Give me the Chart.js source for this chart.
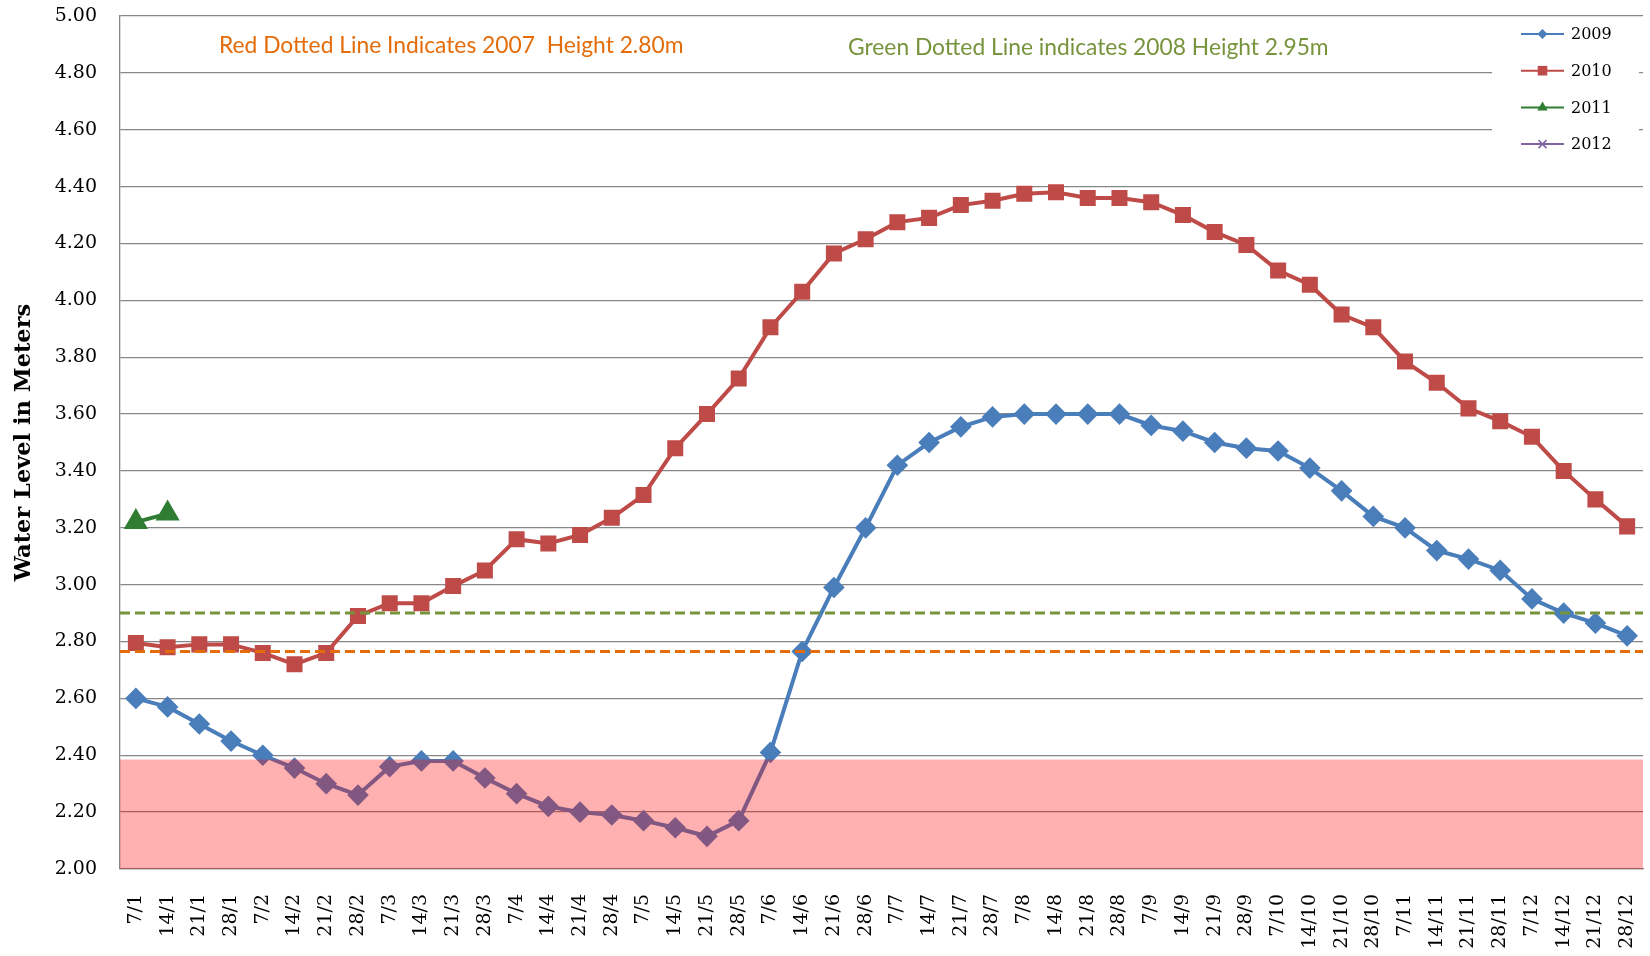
<!DOCTYPE html>
<html>
<head>
<meta charset="utf-8">
<script src="https://cdn.jsdelivr.net/npm/chart.js@4.4.1/dist/chart.umd.min.js"></script>
<style>
  body { margin: 0; background: #fff; }
  canvas { display: block; }
</style>
</head>
<body>
<canvas id="waterChart" width="1650" height="956"></canvas>
<script>
// weekly readings, day/month
const weeks = ['7/1','14/1','21/1','28/1','7/2','14/2','21/2','28/2','7/3','14/3','21/3','28/3',
  '7/4','14/4','21/4','28/4','7/5','14/5','21/5','28/5','7/6','14/6','21/6','28/6',
  '7/7','14/7','21/7','28/7','7/8','14/8','21/8','28/8','7/9','14/9','21/9','28/9',
  '7/10','14/10','21/10','28/10','7/11','14/11','21/11','28/11','7/12','14/12','21/12','28/12'];

const level2009 = [2.60, 2.57, 2.51, 2.45, 2.40, 2.355, 2.30, 2.26, 2.36, 2.38, 2.38, 2.32,
  2.265, 2.22, 2.20, 2.19, 2.17, 2.145, 2.115, 2.17, 2.41, 2.765, 2.99, 3.20,
  3.42, 3.50, 3.555, 3.59, 3.60, 3.60, 3.60, 3.60, 3.56, 3.54, 3.50, 3.48,
  3.47, 3.41, 3.33, 3.24, 3.20, 3.12, 3.09, 3.05, 2.95, 2.90, 2.865, 2.82];

const level2010 = [2.795, 2.78, 2.79, 2.79, 2.76, 2.72, 2.76, 2.89, 2.935, 2.935, 2.995, 3.05,
  3.16, 3.145, 3.175, 3.235, 3.315, 3.48, 3.60, 3.725, 3.905, 4.03, 4.165, 4.215,
  4.275, 4.29, 4.335, 4.35, 4.375, 4.38, 4.36, 4.36, 4.345, 4.30, 4.24, 4.195,
  4.105, 4.055, 3.95, 3.905, 3.785, 3.71, 3.62, 3.575, 3.52, 3.40, 3.30, 3.205];

const level2011 = [3.22, 3.25];
const level2012 = [];

// reference levels as drawn on the sheet
const line2007 = 2.765;
const line2008 = 2.90;
const lowBandTop = 2.385;

const note2007 = 'Red Dotted Line Indicates 2007  Height 2.80m';
const note2008 = 'Green Dotted Line indicates 2008 Height 2.95m';

Chart.defaults.font.family = 'DejaVu Serif';
Chart.defaults.color = '#000';

function drawMarker(ctx, style, x, y, r) {
    ctx.beginPath();
    if (style === 'rectRot') {
        ctx.moveTo(x - r, y); ctx.lineTo(x, y - r); ctx.lineTo(x + r, y); ctx.lineTo(x, y + r);
        ctx.closePath(); ctx.fill();
    } else if (style === 'rect') {
        const s = r * Math.SQRT1_2;
        ctx.rect(x - s, y - s, 2 * s, 2 * s); ctx.fill();
    } else if (style === 'triangle') {
        ctx.moveTo(x, y - r); ctx.lineTo(x + r * 0.866, y + r * 0.5); ctx.lineTo(x - r * 0.866, y + r * 0.5);
        ctx.closePath(); ctx.fill();
    } else if (style === 'crossRot') {
        ctx.moveTo(x - r, y - r); ctx.lineTo(x + r, y + r);
        ctx.moveTo(x + r, y - r); ctx.lineTo(x - r, y + r);
        ctx.stroke();
    }
}

const overlays = {
    id: 'overlays',
    afterDatasetsDraw(chart) {
        const { ctx, chartArea: area, scales: { y } } = chart;
        ctx.save();
        // pink low water band sits over the lines
        const bandTop = y.getPixelForValue(lowBandTop);
        ctx.fillStyle = 'rgba(255, 0, 0, 0.31)';
        ctx.fillRect(area.left, bandTop, area.right - area.left, y.getPixelForValue(y.min) - bandTop);

        // dotted reference lines
        ctx.lineWidth = 3;
        ctx.setLineDash([10, 5]);
        [[line2008, '#77933C'], [line2007, '#E46C0A']].forEach(([v, c]) => {
            const py = y.getPixelForValue(v);
            ctx.strokeStyle = c;
            ctx.beginPath();
            ctx.moveTo(area.left, py);
            ctx.lineTo(area.right, py);
            ctx.stroke();
        });
        ctx.setLineDash([]);

        // notes
        ctx.font = '22.8px Lato';
        ctx.textBaseline = 'middle';
        ctx.fillStyle = '#E46C0A';
        ctx.fillText(note2007, area.left + 99, 46);
        ctx.fillStyle = '#77933C';
        ctx.fillText(note2008, area.left + 728, 48);
        ctx.restore();
    },
    afterDraw(chart) {
        const { ctx } = chart;
        ctx.save();
        ctx.fillStyle = '#fff';
        ctx.fillRect(1492, 18, 147, 144);
        ctx.font = '16px "DejaVu Serif"';
        ctx.textBaseline = 'middle';
        chart.data.datasets.forEach((ds, i) => {
            const cy = 34 + i * 36.7;
            ctx.strokeStyle = ds.borderColor;
            ctx.fillStyle = ds.backgroundColor;
            ctx.lineWidth = 2;
            ctx.beginPath();
            ctx.moveTo(1521, cy);
            ctx.lineTo(1564, cy);
            ctx.stroke();
            ctx.lineWidth = 1.5;
            drawMarker(ctx, ds.pointStyle, 1542.5, cy, ds.legendRadius);
            ctx.fillStyle = '#000';
            ctx.fillText(ds.label, 1571, cy + 1);
        });
        ctx.restore();
    }
};

new Chart(document.getElementById('waterChart').getContext('2d'), {
    type: 'line',
    data: {
        labels: weeks,
        datasets: [{
            label: '2009',
            data: level2009,
            borderColor: '#4A7EBB',
            backgroundColor: '#4A7EBB',
            borderWidth: 4,
            pointStyle: 'rectRot',
            pointRadius: 8,
            legendRadius: 5
        }, {
            label: '2010',
            data: level2010,
            borderColor: '#BE4B48',
            backgroundColor: '#BE4B48',
            borderWidth: 4,
            pointStyle: 'rect',
            pointRadius: 8.5,
            legendRadius: 6.8
        }, {
            label: '2011',
            data: level2011,
            borderColor: '#2E7D32',
            backgroundColor: '#2E7D32',
            borderWidth: 4,
            pointStyle: 'triangle',
            pointRadius: 10,
            legendRadius: 6
        }, {
            label: '2012',
            data: level2012,
            borderColor: '#8064A2',
            backgroundColor: '#8064A2',
            borderWidth: 4,
            pointStyle: 'crossRot',
            pointRadius: 6,
            legendRadius: 4
        }]
    },
    options: {
        responsive: false,
        animation: false,
        layout: { autoPadding: false, padding: { top: 0, right: 7, left: 0, bottom: 0 } },
        plugins: {
            legend: { display: false },
            tooltip: { enabled: false }
        },
        scales: {
            x: {
                offset: true,
                grid: { display: false, drawTicks: false, offset: true },
                border: { display: true, color: '#878787', width: 1.3 },
                ticks: {
                    autoSkip: false,
                    minRotation: 90,
                    maxRotation: 90,
                    padding: 25,
                    font: { size: 19 }
                },
                afterFit(scale) {
                    scale.height = 87;
                    scale.paddingLeft = 0;
                    scale.paddingRight = 0;
                }
            },
            y: {
                min: 2,
                max: 5,
                grid: { color: '#878787', lineWidth: 1.3, drawTicks: false },
                border: { display: true, color: '#878787', width: 1.3 },
                ticks: {
                    stepSize: 0.2,
                    padding: 23,
                    font: { size: 19 },
                    callback: v => v.toFixed(2)
                },
                title: {
                    display: true,
                    text: 'Water Level in Meters',
                    font: { size: 22.5, weight: 'bold' },
                    padding: { top: 11, bottom: 0 }
                },
                afterFit(scale) {
                    scale.width = 120;
                    scale.paddingTop = 16;
                    scale.paddingBottom = 0;
                }
            }
        }
    },
    plugins: [overlays]
});
</script>
</body>
</html>
